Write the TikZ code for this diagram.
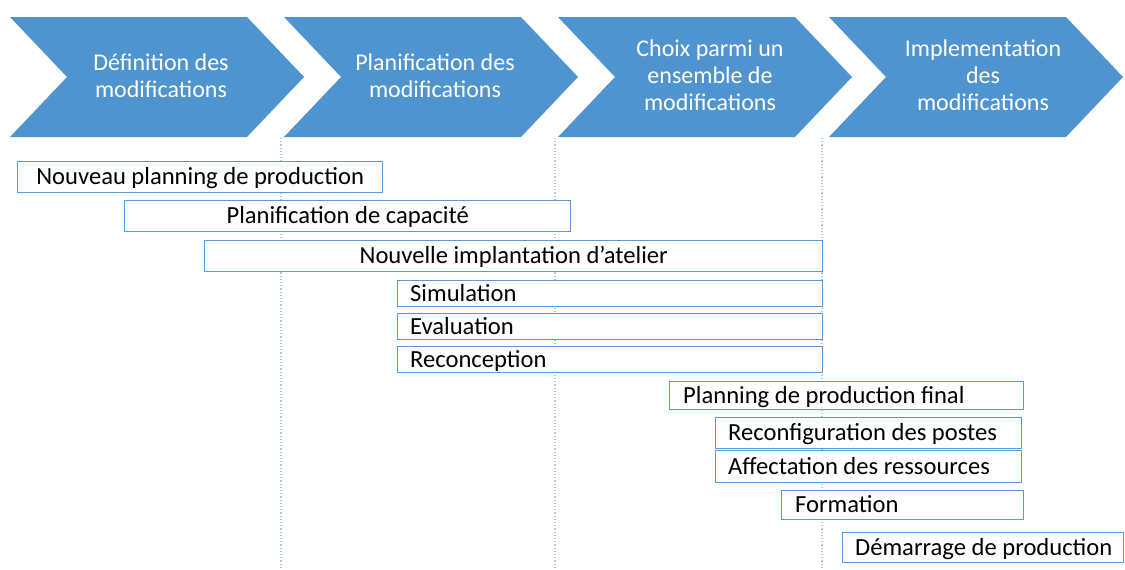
\documentclass[tikz,border=0pt]{standalone}
\usepackage{fontspec}
\setmainfont{Carlito}
\definecolor{chev}{HTML}{4F94CF}
\definecolor{barline}{HTML}{5B9BD5}
\definecolor{dotline}{HTML}{A9C9E8}
\newcommand\chevshape[1]{\fill[chev] (#1,17) -- ++(237,0) -- ++(57,60) -- ++(-57,60) -- ++(-237,0) -- ++(57,-60) -- cycle;}
\begin{document}
\begin{tikzpicture}[x=1pt,y=-1pt,
  chevtext/.style={text=white, font=\fontsize{24}{27}\selectfont, align=center, inner sep=0pt},
  bar/.style={draw=barline, line width=1.4pt, fill=white, anchor=north west, inner sep=0pt,
     text height=18pt, text depth=3pt, font=\fontsize{24.6}{26}\selectfont},
  bartext/.style={anchor=west, inner sep=0pt, text height=18pt, text depth=3pt, font=\fontsize{24.6}{26}\selectfont},
  dotv/.style={draw=dotline, line width=1.2pt, dotted}]
\useasboundingbox (0,0) rectangle (1125,570);
% chevrons
\chevshape{10}
\chevshape{284}
\chevshape{558}
\chevshape{829}
\node[chevtext] (c1) at (161,76) {Définition des\\modifications};
\node[chevtext] (c2) at (435,76) {Planification des\\modifications};
\node[chevtext] (c3) at (710,75) {Choix parmi un\\ensemble de\\modifications};
\node[chevtext] (c4) at (983,75) {Implementation\\des\\modifications};
% dotted separators
\coordinate (d1t) at (281,138); \coordinate (d1b) at (281,570);
\coordinate (d2t) at (555,138); \coordinate (d2b) at (555,570);
\coordinate (d3t) at (822,138); \coordinate (d3b) at (822,570);
\draw[dotv] (d1t) -- (d1b);
\draw[dotv] (d2t) -- (d2b);
\draw[dotv] (d3t) -- (d3b);
% bars with centred text
\node[bar, minimum width=365pt, minimum height=31pt] (b1) at (17,161) {Nouveau planning de production};
\node[bar, minimum width=446pt, minimum height=31pt] (b2) at (124,200) {Planification de capacité};
\node[bar, minimum width=618pt, minimum height=31pt] (b3) at (204,240) {Nouvelle implantation d’atelier};
% bars with left text
\node[bar, minimum width=425pt, minimum height=26pt] (b4) at (397,280) {};
\node[bar, minimum width=425pt, minimum height=26pt] (b5) at (397,313) {};
\node[bar, minimum width=425pt, minimum height=26pt] (b6) at (397,346) {};
\node[bar, minimum width=354pt, minimum height=28pt] (b7) at (669,381) {};
\node[bar, minimum width=306pt, minimum height=31pt] (b8) at (715,417) {};
\node[bar, minimum width=306pt, minimum height=32pt] (b9) at (715,450) {};
\node[bar, minimum width=242pt, minimum height=29pt] (b10) at (781,490) {};
\node[bar, minimum width=281pt, minimum height=30pt] (b11) at (842,532) {};
\node[bartext] (t4) at ([xshift=13pt]b4.west) {Simulation};
\node[bartext] (t5) at ([xshift=13pt]b5.west) {Evaluation};
\node[bartext] (t6) at ([xshift=13pt]b6.west) {Reconception};
\node[bartext] (t7) at ([xshift=14pt]b7.west) {Planning de production final};
\node[bartext] (t8) at ([xshift=13pt]b8.west) {Reconfiguration des postes};
\node[bartext] (t9) at ([xshift=13pt]b9.west) {Affectation des ressources};
\node[bartext] (t10) at ([xshift=14pt]b10.west) {Formation};
\node[bartext] (t11) at ([xshift=13pt]b11.west) {Démarrage de production};
\end{tikzpicture}
\end{document}
